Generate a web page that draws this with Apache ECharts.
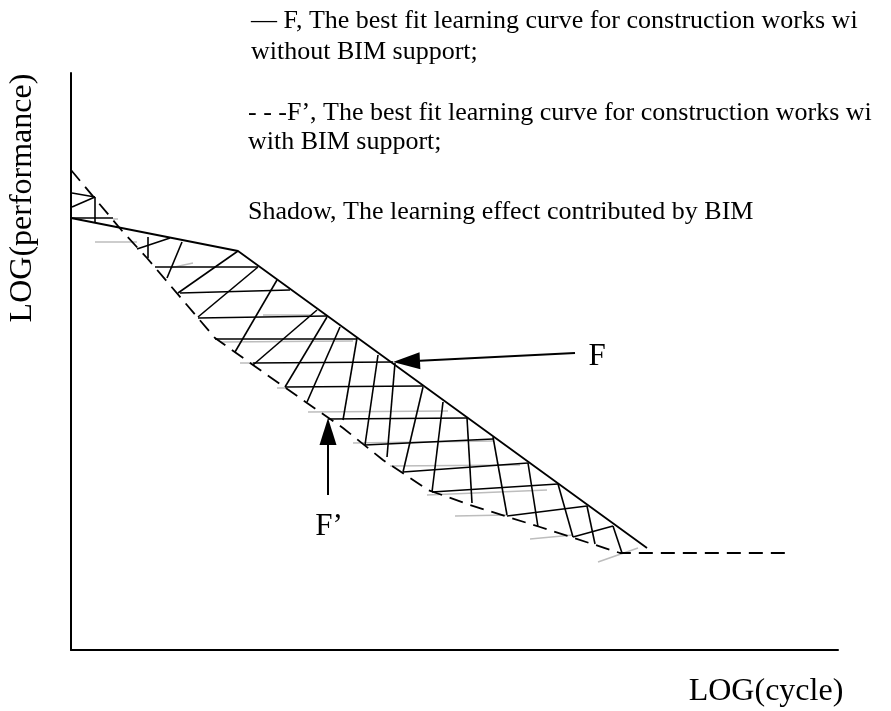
<!DOCTYPE html>
<html lang="en">
<head>
    <meta charset="UTF-8">
    <title>Learning curve with BIM</title>
    <script src="https://cdn.jsdelivr.net/npm/echarts@6/dist/echarts.min.js"></script>
    <style>
        html, body { margin: 0; padding: 0; background: #fff; }
        #chart { width: 891px; height: 711px; }
    </style>
</head>
<body>
<div id="chart"></div>
<script>
    // curve points (x = log cycle, y = log performance, arbitrary units)
    var curveF = [[0, 432], [167, 399], [576, 102]]
    var curveF2 = [[0, 480], [52, 418], [76, 392], [144, 312], [182, 285], [229, 252], [272, 222],
        [312, 190], [357, 160], [399, 145], [469, 123], [549, 97], [720, 97]]

    // shadow hatch strokes [[x1, y1], [x2, y2]]
    var hatchBlack = [
        [[1, 457], [24, 453]], [[1, 443], [24, 453]], [[24, 453], [24, 428]], [[1, 432], [42, 432]],
        [[84, 383], [187, 383]], [[109, 357], [219, 360]], [[127, 332], [256, 334]], [[144, 311], [286, 311]],
        [[182, 287], [322, 288]], [[214, 263], [352, 264]], [[257, 231], [396, 232]], [[294, 205], [422, 211]],
        [[332, 178], [457, 187]], [[361, 158], [487, 166]], [[436, 134], [516, 144]], [[502, 113], [542, 124]],
        [[66, 401], [99, 412]], [[77, 413], [77, 392]], [[96, 372], [111, 408]], [[107, 357], [167, 399]],
        [[127, 333], [187, 383]], [[164, 298], [206, 370]], [[182, 285], [246, 340]], [[214, 263], [256, 333]],
        [[236, 248], [269, 323]], [[272, 230], [286, 312]], [[294, 205], [307, 295]], [[316, 193], [324, 287]],
        [[332, 178], [352, 263]], [[361, 158], [372, 248]],
        [[396, 232], [401, 147]], [[422, 213], [436, 135]], [[457, 187], [467, 123]], [[487, 166], [502, 113]],
        [[516, 144], [524, 106]], [[542, 124], [551, 97]]
    ]
    var hatchGrey = [
        [[24, 408], [66, 408]], [[99, 382], [122, 387]], [[169, 287], [182, 287]], [[237, 238], [377, 239]],
        [[282, 207], [422, 209]], [[319, 184], [449, 185]], [[356, 155], [476, 160]], [[384, 134], [436, 135]],
        [[459, 111], [502, 115]], [[527, 88], [567, 102]], [[192, 335], [239, 335]], [[149, 308], [282, 309]],
        [[206, 262], [214, 262]], [[42, 431], [47, 431]]
    ]

    // pointers to the two curves
    var arrowTails = [[504, 297], [257, 155]]
    var arrowTips = [[322, 288], [257, 232]]
    var arrowNames = ['F', 'F’']
    var arrowNamePos = [[526, 293], [258, 123]]

    var legendLines = [
        '— F, The best fit learning curve for construction works wi',
        'without BIM support;',
        '- - -F’, The best fit learning curve for construction works wi',
        'with BIM support;',
        'Shadow, The learning effect contributed by BIM'
    ]

    var serif = '"Liberation Serif", "Times New Roman", serif'
    var chart = echarts.init(document.getElementById('chart'))

    var legendX = [251, 251, 248, 248, 248]
    var legendY = [21, 52, 113, 142, 212]
    var graphics = legendLines.map(function (t, i) {
        return {
            type: 'text', x: legendX[i], y: legendY[i],
            style: {text: t, font: '26px ' + serif, fill: '#000',
                textAlign: 'left', align: 'left', textVerticalAlign: 'middle', verticalAlign: 'middle'}
        }
    })
    graphics.push({
        type: 'text', x: 23, y: 198, rotation: Math.PI / 2,
        style: {text: 'LOG(performance)', font: '32px ' + serif, fill: '#000',
            textAlign: 'center', align: 'center', textVerticalAlign: 'middle', verticalAlign: 'middle'}
    })
    graphics.push({
        type: 'text', x: 766, y: 692,
        style: {text: 'LOG(cycle)', font: '32px ' + serif, fill: '#000',
            textAlign: 'center', align: 'center', textVerticalAlign: 'middle', verticalAlign: 'middle'}
    })

    var option = {
        animation: false,
        backgroundColor: '#fff',
        grid: {left: 71, right: 53, top: 73, bottom: 61},
        xAxis: {
            type: 'value', min: 0, max: 767,
            axisLine: {lineStyle: {color: '#000', width: 2}},
            axisTick: {show: false}, axisLabel: {show: false}, splitLine: {show: false}
        },
        yAxis: {
            type: 'value', min: 0, max: 577,
            axisLine: {show: true, lineStyle: {color: '#000', width: 2}},
            axisTick: {show: false}, axisLabel: {show: false}, splitLine: {show: false}
        },
        graphic: graphics,
        series: [
            {
                type: 'lines', coordinateSystem: 'cartesian2d',
                data: hatchGrey.map(function (s) { return {coords: s} }),
                lineStyle: {color: '#bdbdbd', width: 1.6, opacity: 1}
            },
            {
                type: 'lines', coordinateSystem: 'cartesian2d',
                data: hatchBlack.map(function (s) { return {coords: s} }),
                lineStyle: {color: '#000', width: 1.6, opacity: 1}
            },
            {
                type: 'line', data: curveF, symbol: 'none',
                lineStyle: {color: '#000', width: 1.8}
            },
            {
                type: 'line', data: curveF2, symbol: 'none',
                lineStyle: {color: '#000', width: 1.8, type: [14, 8]}
            },
            {
                type: 'custom',
                data: arrowTails.map(function (t, i) {
                    return [t[0], t[1], arrowTips[i][0], arrowTips[i][1], i]
                }),
                encode: {x: [0, 2], y: [1, 3]},
                renderItem: function (params, api) {
                    var a = api.coord([api.value(0), api.value(1)])
                    var b = api.coord([api.value(2), api.value(3)])
                    var i = api.value(4)
                    var p = api.coord(arrowNamePos[i])
                    var dx = b[0] - a[0], dy = b[1] - a[1]
                    var len = Math.sqrt(dx * dx + dy * dy)
                    var ux = dx / len, uy = dy / len
                    var hl = 27, hw = 8.5
                    var base = [b[0] - ux * hl, b[1] - uy * hl]
                    return {
                        type: 'group',
                        children: [
                            {type: 'line', shape: {x1: a[0], y1: a[1], x2: base[0], y2: base[1]},
                                style: {stroke: '#000', lineWidth: 2}},
                            {type: 'polygon', shape: {points: [b, [base[0] - uy * hw, base[1] + ux * hw],
                                    [base[0] + uy * hw, base[1] - ux * hw]]}, style: {fill: '#000'}},
                            {type: 'text', x: p[0], y: p[1],
                                style: {text: arrowNames[i], font: '31px ' + serif, fill: '#000',
                                    textAlign: 'center', align: 'center',
                                    textVerticalAlign: 'middle', verticalAlign: 'middle'}}
                        ]
                    }
                }
            }
        ]
    }
    chart.setOption(option)
</script>
</body>
</html>
